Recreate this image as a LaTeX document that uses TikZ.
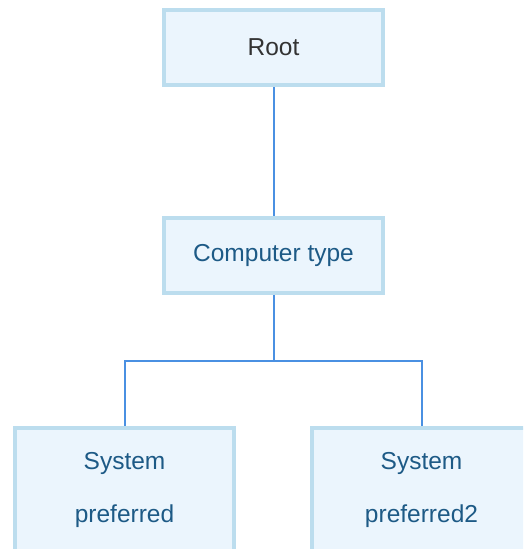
\documentclass[tikz,border=0pt]{standalone}
\usepackage{fontspec}
\setmainfont{Liberation Sans}
\definecolor{boxline}{HTML}{BCDDEE}
\definecolor{boxfill}{HTML}{EBF5FD}
\definecolor{wire}{HTML}{4A90E2}
\definecolor{rootink}{HTML}{333333}
\definecolor{boxink}{HTML}{1D5A86}
\tikzset{
  box/.style={draw=boxline, fill=boxfill, line width=4pt, inner sep=0pt,
    minimum width=219pt, minimum height=75pt, text=boxink,
    font=\fontsize{24.5}{53}\selectfont, align=center},
  leaf/.style={box, minimum height=124pt},
  wire/.style={draw=wire, line width=2pt}
}
\begin{document}
\begin{tikzpicture}[x=1pt, y=-1pt]
  \clip (0,0) rectangle (523,549);
  \fill[white] (0,0) rectangle (523,549);
  \node[box, text=rootink] (root) at (273.5,47.5) {Root};
  \node[box] (type) at (273.5,255.5) {Computer type};
  \node[leaf] (pref) at (124.5,490) {System\\preferred};
  \node[leaf] (preftwo) at (421.5,490) {System\\preferred2};
  \coordinate (fork) at (273.5,361);
  \draw[wire] (root) -- (type);
  \draw[wire] (type) -- (fork);
  \draw[wire] (fork) -| (pref);
  \draw[wire] (fork) -| (preftwo);
\end{tikzpicture}
\end{document}
